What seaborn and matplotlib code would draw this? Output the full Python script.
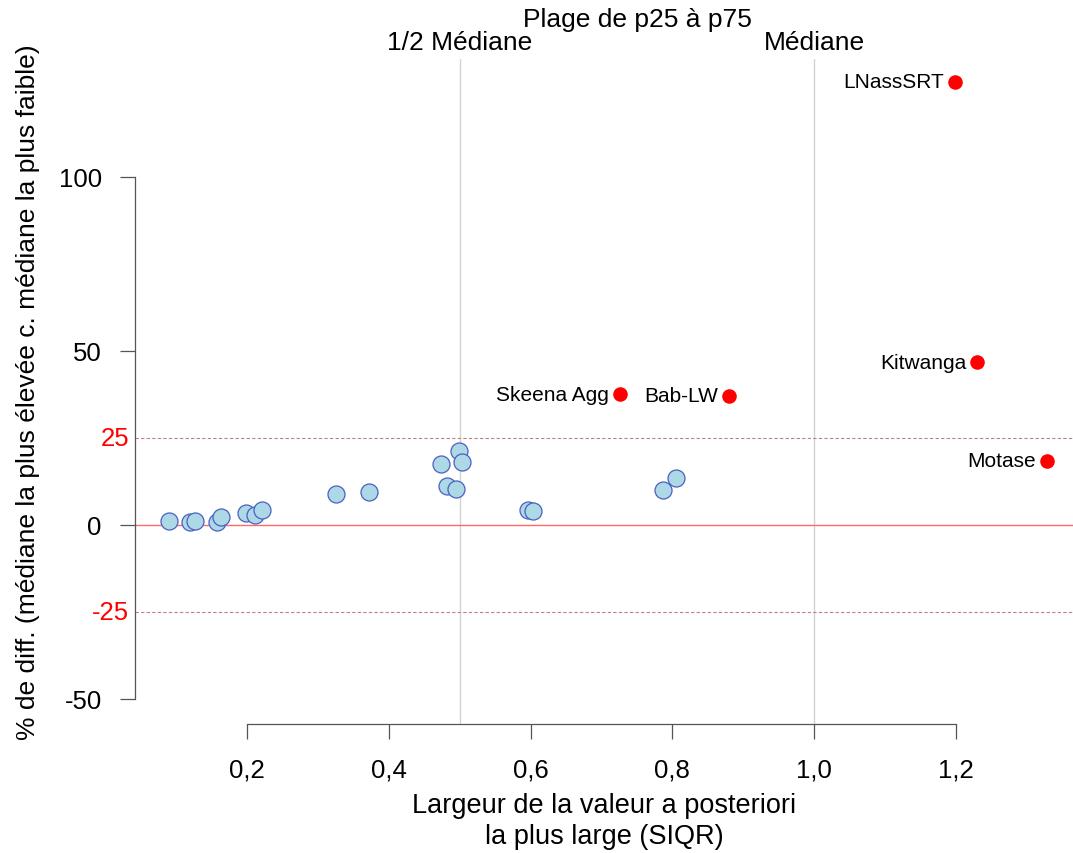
import matplotlib
matplotlib.use("Agg")
import matplotlib.pyplot as plt
import seaborn as sns
import pandas as pd

# SIQR width vs % difference of medians
blue_x = [0.090, 0.119, 0.127, 0.158, 0.163, 0.199, 0.211, 0.221, 0.325, 0.372,
          0.474, 0.499, 0.503, 0.482, 0.495, 0.597, 0.603, 0.787, 0.805]
blue_y = [1.2, 0.9, 1.2, 0.9, 2.2, 3.4, 3.0, 4.2, 9.0, 9.4,
          17.4, 21.3, 18.1, 11.3, 10.3, 4.2, 4.0, 10.1, 13.4]

red_names = ["LNassSRT", "Kitwanga", "Skeena Agg", "Bab-LW", "Motase"]
red_x = [1.199, 1.230, 0.726, 0.880, 1.328]
red_y = [127.3, 46.8, 37.6, 37.1, 18.4]

x_ticks = [0.2, 0.4, 0.6, 0.8, 1.0, 1.2]
y_ticks = [-50, 0, 50, 100]
y_ref = [-25, 25]
v_lines = [0.5, 1.0]
v_names = ["1/2 Médiane", "Médiane"]

sns.set_theme(style="white")
plt.rcParams["font.family"] = ["Liberation Sans", "DejaVu Sans"]
plt.rcParams["text.color"] = "black"
plt.rcParams["axes.labelcolor"] = "black"
plt.rcParams["xtick.color"] = "black"
plt.rcParams["ytick.color"] = "black"

blue = pd.DataFrame({"x": blue_x, "y": blue_y})
red = pd.DataFrame({"x": red_x, "y": red_y, "name": red_names})

fig = plt.figure(figsize=(10.73, 8.54), dpi=100)
ax = fig.add_axes([135 / 1073, 129 / 854, 938 / 1073, 665 / 854])

ax.set_xlim(0.042, 1.365)
ax.set_ylim(-57.2, 133.9)

# reference lines
for v in v_lines:
    ax.axvline(v, color="#d3d3d3", lw=1, zorder=1)
ax.axhline(0, color="#ff6a6a", lw=1, zorder=1)
for h in y_ref:
    ax.axhline(h, color="#c08080", lw=0.8, ls=(0, (3, 2)), zorder=1)

sns.scatterplot(data=blue, x="x", y="y", ax=ax, color="#add8e6",
                edgecolor="#4a5fc1", linewidth=0.9, s=150, zorder=3)
sns.scatterplot(data=red, x="x", y="y", ax=ax, color="red",
                linewidth=0, s=110, zorder=3)

for _, r in red.iterrows():
    ax.annotate(r["name"], (r["x"], r["y"]), xytext=(-8, 0), textcoords="offset points",
                ha="right", va="center", fontsize=15)

# axes styling
for s in ["top", "right"]:
    ax.spines[s].set_visible(False)
for s in ["left", "bottom"]:
    ax.spines[s].set_color("#555555")
    ax.spines[s].set_linewidth(0.9)
ax.spines["bottom"].set_bounds(x_ticks[0], x_ticks[-1])
ax.spines["left"].set_bounds(y_ticks[0], y_ticks[-1])

ax.set_xticks(x_ticks)
ax.set_xticklabels([f"{t:.1f}".replace(".", ",") for t in x_ticks])
ax.set_yticks(y_ticks)
ax.set_yticklabels([str(t) for t in y_ticks])
ax.tick_params(axis="x", direction="out", length=11, width=0.9, color="#555555",
               labelsize=18.5, pad=13, bottom=True)
ax.tick_params(axis="y", direction="out", length=11, width=0.9, color="#555555",
               labelsize=18.5, pad=13, left=True)

for h in y_ref:
    ax.annotate(str(h), (0, h), xycoords=("axes fraction", "data"), xytext=(-4, 0),
                textcoords="offset points", ha="right", va="center",
                fontsize=18.5, color="red")

ax.set_xlabel("Largeur de la valeur a posteriori\nla plus large (SIQR)",
              fontsize=19.5, labelpad=8, linespacing=1.25)
ax.set_ylabel("% de diff. (médiane la plus élevée c. médiane la plus faible)",
              fontsize=19, labelpad=13)

# top labels
for v, n in zip(v_lines, v_names):
    ax.annotate(n, (v, 1), xycoords=("data", "axes fraction"), xytext=(0, 12),
                textcoords="offset points", ha="center", va="center", fontsize=19)
ax.annotate("Plage de p25 à p75", (sum(v_lines) / 2, 1), xycoords=("data", "axes fraction"),
            xytext=(0, 29), textcoords="offset points", ha="center", va="center",
            fontsize=19)

fig.savefig("out.png", dpi=100)
